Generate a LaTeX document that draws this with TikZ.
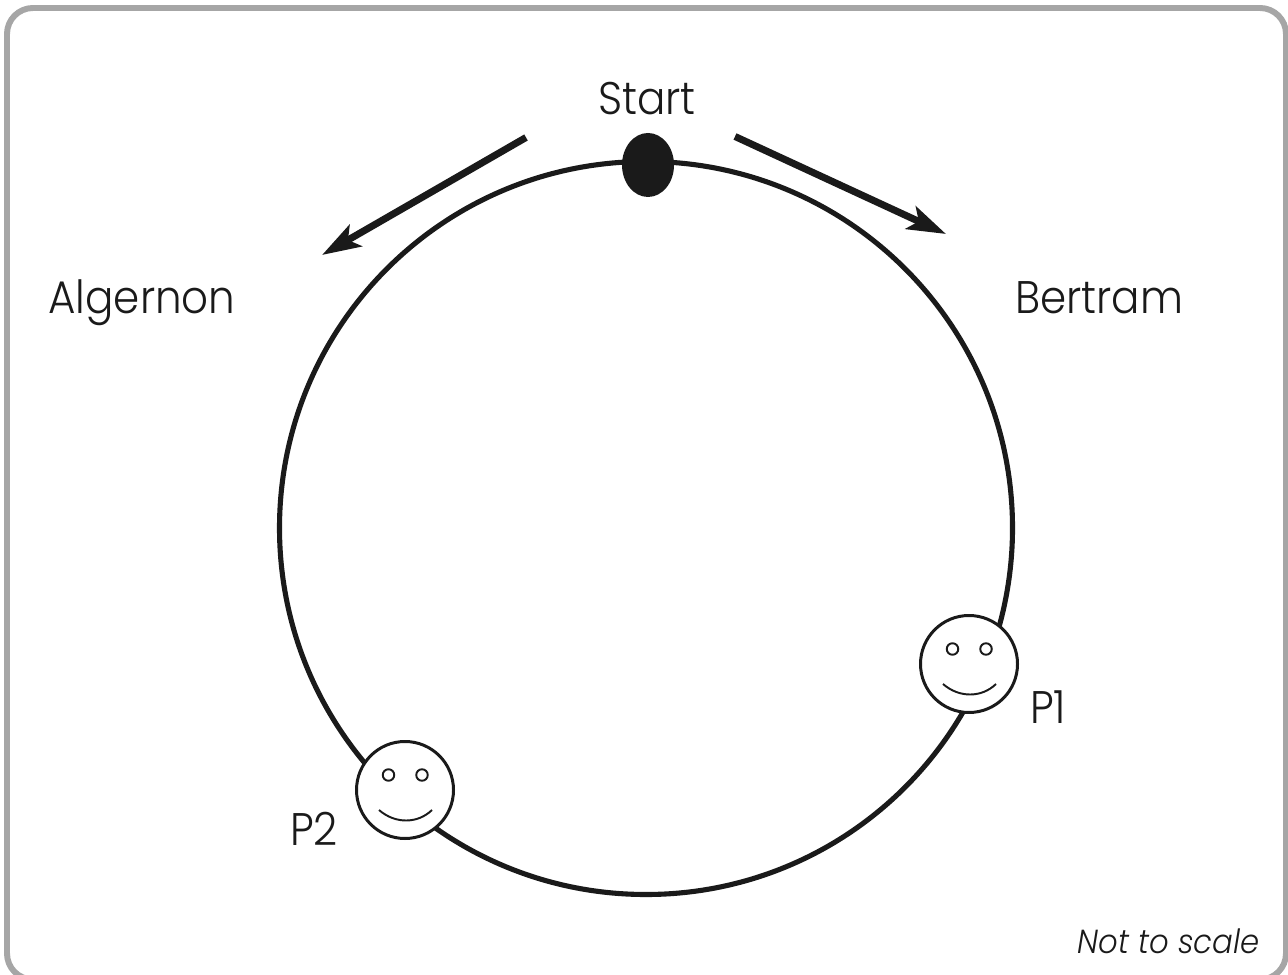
\documentclass[tikz,border=0pt]{standalone}
\usepackage{fontspec}
\setmainfont{Poppins Light}[FakeStretch=0.92]
\usetikzlibrary{arrows.meta}
\definecolor{cink}{HTML}{1A1A1A}
\definecolor{cframe}{HTML}{A6A6A6}
\tikzset{
  lbl/.style={text=cink, font=\fontsize{26}{30}\selectfont, inner sep=0pt, anchor=base},
  dirarrow/.style={cink, line width=4pt, -{Stealth[length=22pt, width=14pt, inset=5pt]}},
  facering/.style={cink, line width=1.7pt, fill=white},
  facepart/.style={cink, line width=1.1pt}
}
\begin{document}
\begin{tikzpicture}
\useasboundingbox (0,0) rectangle (25.76,19.48);
% outer frame
\draw[cframe, line width=3.4pt, rounded corners=0.52cm] (0.14,-0.11) rectangle (25.72,19.32);
% the track
\coordinate (C) at (12.92,8.92);
\draw[cink, line width=2.9pt] (C) circle (7.33);
% start marker
\fill[cink] (12.96,16.18) ellipse (0.52 and 0.64);
% direction arrows
\coordinate (BS) at (14.70,16.75);
\coordinate (BT) at (18.92,14.80);
\coordinate (AS) at (10.52,16.73);
\coordinate (AT) at (6.44,14.38);
\draw[dirarrow] (BS) -- (BT);
\draw[dirarrow] (AS) -- (AT);
% the two faces
\foreach \x/\y in {19.38/6.20,8.10/3.68} {
  \begin{scope}[shift={(\x,\y)}]
    \draw[facering] (0,0) circle (0.97);
    \draw[facepart] (-0.33,0.30) circle (0.115);
    \draw[facepart] (0.34,0.30) circle (0.115);
    \draw[facepart] (-0.52,-0.40) .. controls (-0.20,-0.68) and (0.25,-0.68) .. (0.54,-0.40);
  \end{scope}
}
% labels
\node[lbl] (startlbl) at (12.94,17.18) {Start};
\node[lbl] (alglbl) at (2.84,13.20) {Algernon};
\node[lbl] (berlbl) at (21.98,13.20) {Bertram};
\node[lbl] (ponelbl) at (20.96,5.02) {P1};
\node[lbl] (ptwolbl) at (6.28,2.58) {P2};
\node[lbl, anchor=base east, font=\itshape\fontsize{19}{23}\selectfont] (scalelbl) at (25.20,0.42) {Not to scale};
\end{tikzpicture}
\end{document}
